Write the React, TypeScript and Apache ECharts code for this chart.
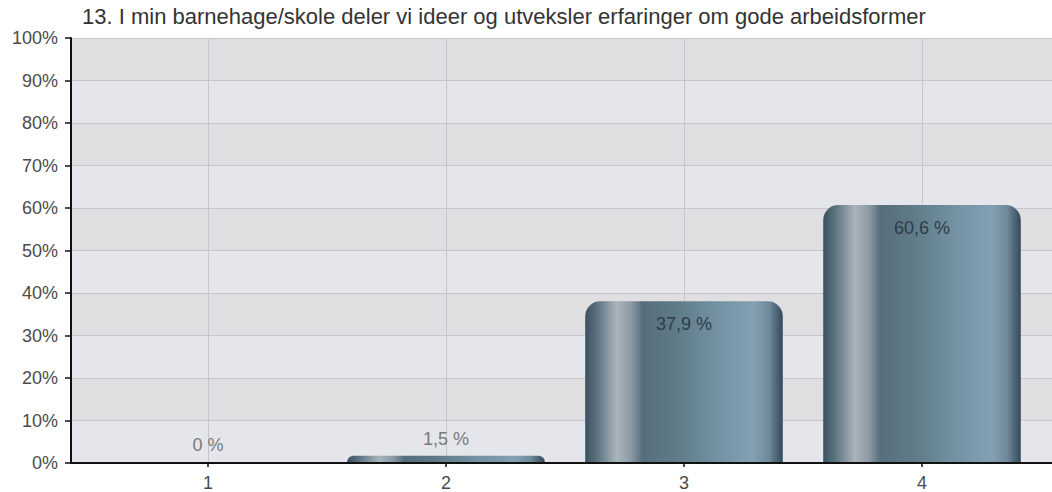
import React, { useEffect, useRef } from "react";
import * as echarts from "echarts";

const TITLE = "13. I min barnehage/skole deler vi ideer og utveksler erfaringer om gode arbeidsformer";
const categories = ["1", "2", "3", "4"];
const values = [0, 1.5, 37.9, 60.6];
const yTicks = { min: 0, max: 100, interval: 10 };

const FONT = "'Liberation Sans', Arial, Helvetica, sans-serif";

function fmt(v: number): string {
  return v === 0 ? "0 %" : v.toFixed(1).replace(".", ",") + " %";
}

export default function App() {
  const ref = useRef<HTMLDivElement>(null);
  useEffect(() => {
    if (!ref.current) return;
    const chart = echarts.init(ref.current, null, { renderer: "svg" });
    const barColor = new echarts.graphic.LinearGradient(0, 0, 1, 0, [
      { offset: 0, color: "#3a5160" },
      { offset: 0.06, color: "#5d7380" },
      { offset: 0.16, color: "#a9b4bc" },
      { offset: 0.23, color: "#8d9ba6" },
      { offset: 0.29, color: "#566e7c" },
      { offset: 0.45, color: "#5f7a87" },
      { offset: 0.65, color: "#7190a0" },
      { offset: 0.85, color: "#84a1b3" },
      { offset: 0.93, color: "#6f8a9a" },
      { offset: 1, color: "#33495a" },
    ]);
    const data = values.map((v) => ({
      value: v,
      label:
        v > 10
          ? { position: "insideTop", distance: 14, color: "#2e3d48" }
          : { position: "top", distance: 8, color: "#7a7a7a" },
    }));
    chart.setOption({
      animation: false,
      backgroundColor: "#ffffff",
      textStyle: { fontFamily: FONT },
      title: {
        text: TITLE,
        left: 82,
        top: 5,
        padding: 0,
        textStyle: { fontFamily: FONT, fontSize: 22, fontWeight: "normal", color: "#333333" },
      },
      grid: [
        { left: 71, right: 0, top: 38, bottom: 29, containLabel: false },
        { left: 89, right: 11, top: 38, bottom: 29, containLabel: false },
      ],
      xAxis: [
        {
          gridIndex: 0,
          type: "category",
          data: [""],
          axisLine: { show: true, lineStyle: { color: "#111111", width: 2 } },
          axisTick: { show: false },
          axisLabel: { show: false },
          splitLine: { show: false },
        },
        {
          gridIndex: 1,
          type: "category",
          data: categories,
          axisLine: { show: false },
          axisTick: { show: true, alignWithLabel: true, length: 5, lineStyle: { color: "#111111", width: 1.5 } },
          axisLabel: { fontFamily: FONT, fontSize: 18, color: "#4b4b4b", margin: 12 },
          splitLine: { show: false },
        },
      ],
      yAxis: [
        {
          gridIndex: 0,
          type: "value",
          min: yTicks.min,
          max: yTicks.max,
          interval: yTicks.interval,
          axisLine: { show: true, lineStyle: { color: "#111111", width: 2 } },
          axisTick: { show: true, length: 6, lineStyle: { color: "#111111", width: 1.5 } },
          axisLabel: { formatter: "{value}%", fontFamily: FONT, fontSize: 18, color: "#4b4b4b", margin: 13 },
          splitLine: { show: true, lineStyle: { color: "#c6c7cb", width: 1 } },
          splitArea: { show: true, areaStyle: { color: ["#e4e6eb", "#dfdfe1"] } },
        },
        {
          gridIndex: 1,
          type: "value",
          min: yTicks.min,
          max: yTicks.max,
          interval: yTicks.interval,
          show: false,
        },
      ],
      series: [
        {
          type: "bar",
          xAxisIndex: 1,
          yAxisIndex: 1,
          z: 3,
          barWidth: "83%",
          data,
          itemStyle: { color: barColor, borderRadius: [15, 15, 0, 0] },
          label: {
            show: true,
            fontFamily: FONT,
            fontSize: 18,
            formatter: (p: any) => fmt(p.value),
          },
          markLine: {
            silent: true,
            z: 1,
            symbol: ["none", "none"],
            label: { show: false },
            lineStyle: { color: "#c6c7cb", width: 1, type: "solid" },
            data: categories.map((c) => ({ xAxis: c })),
          },
        },
      ],
    });
    return () => chart.dispose();
  }, []);
  return (
    <div
      ref={ref}
      style={{ position: "fixed", left: 0, top: 0, width: 1052, height: 492 }}
    />
  );
}
